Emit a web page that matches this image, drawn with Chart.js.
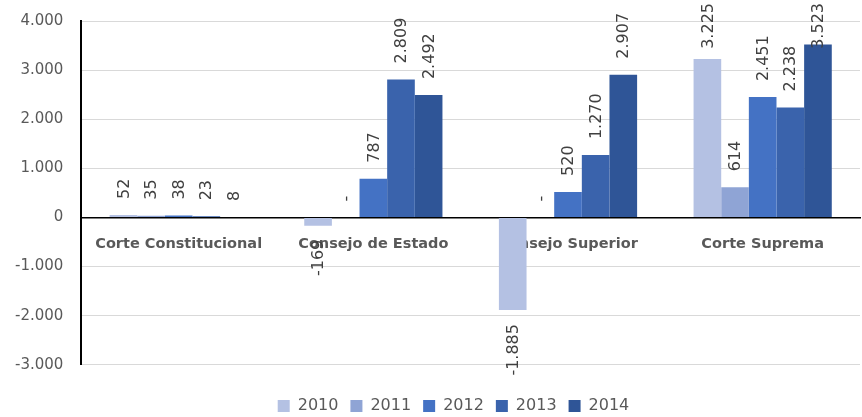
<!DOCTYPE html>
<html>
<head>
<meta charset="utf-8">
<script src="https://cdn.jsdelivr.net/npm/chart.js@4"></script>
<style>
  body { margin: 0; background: #fff; }
  #wrap { width: 862px; height: 417px; position: relative; }
</style>
</head>
<body>
<div id="wrap"><canvas id="chart"></canvas></div>
<script>
// Datos del gráfico
const categories = ['Corte Constitucional', 'Consejo de Estado', 'Consejo Superior', 'Corte Suprema'];
const years = ['2010', '2011', '2012', '2013', '2014'];
const v2010 = [52, -169, -1885, 3225];
const v2011 = [35, 0, 0, 614];
const v2012 = [38, 787, 520, 2451];
const v2013 = [23, 2809, 1270, 2238];
const v2014 = [8, 2492, 2907, 3523];
const yTicks = [-3000, -2000, -1000, 0, 1000, 2000, 3000, 4000];

const colors = ['#B4C1E3', '#8FA4D5', '#4472C4', '#3A63AC', '#2F5597'];
const series = [v2010, v2011, v2012, v2013, v2014];

// formato con punto de miles
function fmt(v) {
    const s = Math.abs(v).toString().replace(/\B(?=(\d{3})+(?!\d))/g, '.');
    return (v < 0 ? '-' : '') + s;
}

// etiquetas de datos giradas
const dataLabels = {
    id: 'dataLabels',
    afterDatasetsDraw(chart) {
        const ctx = chart.ctx;
        ctx.save();
        ctx.font = '16px "DejaVu Sans"';
        ctx.fillStyle = '#404040';
        ctx.textBaseline = 'middle';
        chart.data.datasets.forEach((ds, i) => {
            const meta = chart.getDatasetMeta(i);
            meta.data.forEach((bar, j) => {
                const v = ds.data[j];
                const text = v === 0 ? '-' : fmt(v);
                const w = ctx.measureText(text).width;
                ctx.save();
                if (v >= 0) {
                    let y = bar.y - 16;
                    if (y - w < 3) y = 3 + w;
                    ctx.translate(bar.x, y);
                    ctx.rotate(-Math.PI / 2);
                    ctx.textAlign = 'left';
                } else {
                    ctx.translate(bar.x, bar.y + 14);
                    ctx.rotate(-Math.PI / 2);
                    ctx.textAlign = 'right';
                }
                ctx.fillText(text, 0, 1);
                ctx.restore();
            });
        });
        ctx.restore();
    }
};

// mover la leyenda un poco a la derecha
const legendShift = {
    id: 'legendShift',
    afterLayout(chart) {
        chart.legend.left += 25;
        chart.legend.right += 25;
    }
};

new Chart(document.getElementById('chart'), {
    type: 'bar',
    data: {
        labels: categories,
        datasets: years.map((y, i) => ({
            label: y,
            data: series[i],
            backgroundColor: colors[i],
            borderWidth: 0,
            categoryPercentage: 0.71,
            barPercentage: 1
        }))
    },
    options: {
        responsive: true,
        maintainAspectRatio: false,
        animation: false,
        layout: { padding: { top: 21, left: -3, right: 2, bottom: -7 } },
        plugins: {
            tooltip: { enabled: false },
            legend: {
                position: 'bottom',
                title: { display: true, text: '', font: { size: 1 }, padding: { top: 10, bottom: 10 } },
                labels: {
                    boxWidth: 12,
                    boxHeight: 12,
                    padding: 12,
                    color: '#595959',
                    font: { family: 'DejaVu Sans', size: 16 }
                }
            }
        },
        scales: {
            x: {
                position: { y: 0 },
                afterFit: (s) => { s.paddingTop = 0; s.paddingBottom = 0; },
                grid: { display: false, drawTicks: false },
                border: { display: true, color: '#000', width: 1.5 },
                ticks: {
                    padding: 18,
                    color: '#595959',
                    font: { family: 'DejaVu Sans', size: 14.5, weight: 'bold' }
                }
            },
            y: {
                min: -3000,
                max: 4000,
                afterFit: (s) => { s.paddingTop = 0; },
                afterBuildTicks: (axis) => { axis.ticks = yTicks.map(v => ({ value: v })); },
                grid: { color: '#D9D9D9', lineWidth: 1, drawTicks: false },
                border: { display: true, color: '#000', width: 2 },
                ticks: {
                    padding: 18,
                    color: '#595959',
                    font: { family: 'DejaVu Sans', size: 15 },
                    callback: (v) => fmt(v)
                }
            }
        }
    },
    plugins: [dataLabels, legendShift]
});
</script>
</body>
</html>
